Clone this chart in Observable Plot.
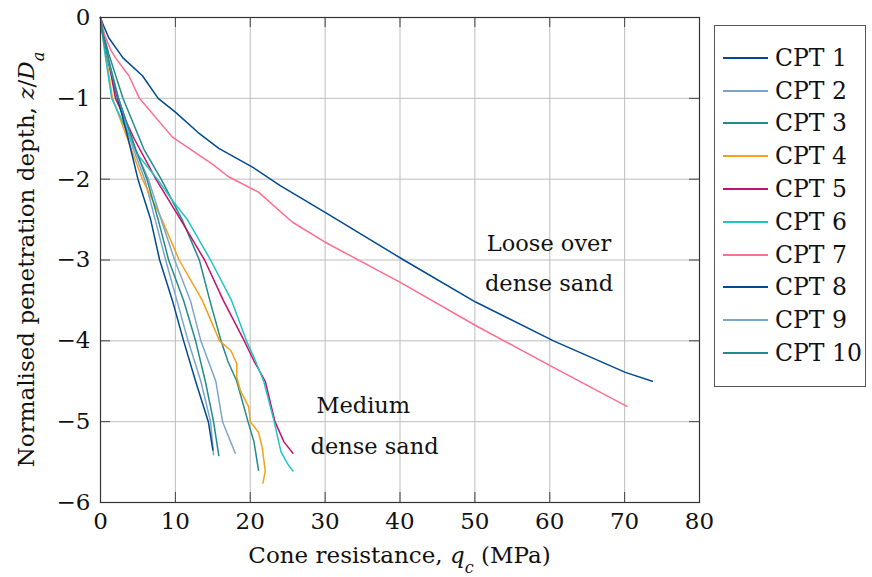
<!DOCTYPE html>
<html>
<head>
<meta charset="utf-8">
<script src="https://cdn.jsdelivr.net/npm/d3@7"></script>
<script src="https://cdn.jsdelivr.net/npm/@observablehq/plot@0.6"></script>
<style>
  body { margin: 0; background: #fff; }
  #wrap { position: relative; width: 872px; height: 577px; font-family: 'DejaVu Serif', serif; }
  #wrap svg text { font-family: 'DejaVu Serif', serif; }
  #legend { position: absolute; left: 714px; top: 25px; width: 152px; height: 362px; border: 1px solid #555; box-sizing: border-box; background: #fff; }
  .item { position: absolute; left: 0; height: 32px; width: 150px; }
  .item .sw { position: absolute; left: 8px; top: 15px; width: 45px; height: 2px; }
  .item .lb { position: absolute; left: 60px; top: 0; line-height: 32px; font-size: 23.5px; color: #111; white-space: nowrap; }
</style>
</head>
<body>
<div id="wrap"></div>
<script>
// ---- data (q_c in MPa, z/D_a) ----
const names = ["CPT 1","CPT 2","CPT 3","CPT 4","CPT 5","CPT 6","CPT 7","CPT 8","CPT 9","CPT 10"];
const colors = ["#004a90","#7ba6cc","#238b8b","#f5a01a","#c5106f","#20c4c4","#ff6e8e","#004a90","#7ba6cc","#238b8b"];

const cpt1 = [[0,0],[0.4,-0.1],[1.1,-0.25],[3.0,-0.5],[5.6,-0.72],[7.7,-1.0],[10,-1.17],[13,-1.42],[15.8,-1.62],[20.3,-1.85],[24,-2.08],[30,-2.41],[40.5,-3.0],[50.1,-3.52],[60.5,-4.0],[70.1,-4.39],[73.7,-4.5]];
const cpt2 = [[0,0],[0.3,-0.2],[0.8,-0.45],[2.2,-1.0],[4.4,-1.63],[5.9,-2.0],[7.3,-2.5],[8.7,-3.0],[10.2,-3.5],[11.7,-4.0],[13.4,-4.5],[14.7,-5.0],[15.1,-5.41]];
const cpt3 = [[0,0],[0.4,-0.2],[1.1,-0.45],[3.0,-1.0],[5.8,-1.63],[8.1,-2.0],[10.9,-2.5],[13.2,-3.0],[14.6,-3.5],[16.1,-4.0],[17.0,-4.25],[18.2,-4.5],[19.7,-5.0],[20.5,-5.25],[21.1,-5.6]];
const cpt4 = [[0,0],[0.25,-0.2],[0.7,-0.45],[1.6,-1.0],[3.6,-1.5],[5.6,-2.0],[8.2,-2.5],[10.5,-3.0],[13.6,-3.5],[15.9,-4.0],[17.4,-4.12],[18.2,-4.28],[18.2,-4.45],[18.7,-4.62],[19.8,-4.82],[20.0,-5.0],[21.1,-5.13],[21.6,-5.32],[22.0,-5.61],[21.7,-5.76]];
const cpt5 = [[0,0],[0.3,-0.2],[0.9,-0.45],[2.0,-1.0],[4.5,-1.5],[7.4,-2.0],[10.7,-2.5],[13.9,-3.0],[16.4,-3.5],[19.2,-4.0],[20.5,-4.25],[22.0,-4.5],[23.3,-5.0],[24.5,-5.25],[25.7,-5.39]];
const cpt6 = [[0,0],[0.25,-0.2],[0.6,-0.45],[1.5,-1.0],[3.5,-1.4],[5.0,-1.7],[7.6,-2.0],[9.5,-2.25],[11.6,-2.5],[14.7,-3.0],[17.5,-3.5],[19.5,-4.0],[20.7,-4.25],[21.8,-4.5],[23.2,-5.0],[23.8,-5.25],[24.1,-5.37],[24.8,-5.49],[25.2,-5.55],[25.7,-5.61]];
const cpt7 = [[0,0],[0.5,-0.2],[1.3,-0.39],[2.0,-0.5],[3.8,-0.72],[5.2,-1.0],[9.6,-1.48],[14.9,-1.81],[17.1,-1.97],[21.1,-2.16],[25.6,-2.53],[30,-2.78],[40.1,-3.28],[50.1,-3.81],[60.1,-4.31],[70.3,-4.81]];
const cpt8 = [[0,0],[0.3,-0.2],[0.8,-0.45],[2.3,-1.0],[3.7,-1.5],[5.0,-2.0],[6.7,-2.5],[7.9,-3.0],[9.6,-3.5],[11.1,-4.0],[12.7,-4.5],[14.4,-5.0],[15.0,-5.35]];
const cpt9 = [[0,0],[0.3,-0.2],[0.8,-0.45],[2.4,-1.0],[4.6,-1.63],[6.4,-2.0],[8.1,-2.5],[9.9,-3.0],[12.0,-3.5],[13.4,-4.0],[15.4,-4.5],[16.3,-5.0],[18.0,-5.39]];
const cpt10 = [[0,0],[0.3,-0.2],[0.9,-0.45],[2.4,-1.0],[4.7,-1.63],[6.2,-2.0],[7.7,-2.5],[9.1,-3.0],[11.1,-3.5],[12.7,-4.0],[14.0,-4.5],[15.1,-5.0],[15.8,-5.42]];

const xTicks = [0,10,20,30,40,50,60,70,80];
const yTicks = [-6,-5,-4,-3,-2,-1,0];

const annoLabels = ["Loose over","dense sand","Medium","dense sand"];
const annoQ = [59.9, 59.9, 35.1, 36.6];
const annoZ = [-2.80, -3.30, -4.80, -5.31];

// ---- build tables ----
const series = [cpt1,cpt2,cpt3,cpt4,cpt5,cpt6,cpt7,cpt8,cpt9,cpt10];
const rows = [];
series.forEach((s, i) => s.forEach(([q, z]) => rows.push({series: names[i], q, z})));
const annotations = annoLabels.map((t, i) => ({label: t, q: annoQ[i], z: annoZ[i]}));

const W = 872, H = 577, mL = 100, mR = 173, mT = 17, mB = 75;
const fw = W - mL - mR, fh = H - mT - mB;
const tickLen = 10;
const FONT = "'DejaVu Serif', serif";
const FS = 23;
const fmt = d3.format("d");

const chart = Plot.plot({
  width: W, height: H,
  marginLeft: mL, marginRight: mR, marginTop: mT, marginBottom: mB,
  style: {fontFamily: FONT, fontSize: FS + "px", color: "#111", background: "#fff"},
  x: {domain: [0, 80], ticks: xTicks, tickFormat: fmt, label: null},
  y: {domain: [-6, 0], ticks: yTicks, tickFormat: fmt, label: null},
  color: {domain: names, range: colors},
  marks: [
    Plot.gridX(xTicks, {stroke: "#bdbdbd", strokeOpacity: 1}),
    Plot.gridY(yTicks, {stroke: "#bdbdbd", strokeOpacity: 1}),
    Plot.tickX(xTicks, {x: d => d, stroke: "#444", insetTop: fh - tickLen}),
    Plot.tickX(xTicks, {x: d => d, stroke: "#444", insetBottom: fh - tickLen}),
    Plot.tickY(yTicks, {y: d => d, stroke: "#444", insetRight: fw - tickLen}),
    Plot.tickY(yTicks, {y: d => d, stroke: "#444", insetLeft: fw - tickLen}),
    Plot.line(rows, {x: "q", y: "z", z: "series", stroke: "series", strokeWidth: 1.5}),
    Plot.text(annotations, {x: "q", y: "z", text: "label", fontSize: 22.5, fill: "#111"}),
    Plot.frame({stroke: "#333", strokeWidth: 1.2}),
    Plot.axisX(xTicks, {tickSize: 0, tickPadding: 10, tickFormat: fmt, label: null, fill: "#111"}),
    Plot.axisY(yTicks, {tickSize: 0, tickPadding: 10, tickFormat: fmt, label: null, fill: "#111"})
  ]
});

const wrap = document.getElementById("wrap");
wrap.appendChild(chart);

// axis titles with italic math parts
const svg = d3.select(chart);
const xl = svg.append("text")
  .attr("x", mL + fw / 2).attr("y", 563)
  .attr("text-anchor", "middle").attr("font-size", FS).attr("fill", "#111");
xl.append("tspan").text("Cone resistance, ");
xl.append("tspan").attr("font-style", "italic").text("q");
xl.append("tspan").attr("font-style", "italic").attr("font-size", 16).attr("baseline-shift", "sub").text("c");
xl.append("tspan").text(" (MPa)");

const yl = svg.append("text")
  .attr("transform", `translate(34,${mT + fh / 2}) rotate(-90)`)
  .attr("text-anchor", "middle").attr("font-size", FS).attr("fill", "#111");
yl.append("tspan").text("Normalised penetration depth, ");
yl.append("tspan").attr("font-style", "italic").text("z");
yl.append("tspan").text("/");
yl.append("tspan").attr("font-style", "italic").text("D");
yl.append("tspan").attr("font-style", "italic").attr("font-size", 16).attr("baseline-shift", "sub").text("a");

// legend
const legend = document.createElement("div");
legend.id = "legend";
names.forEach((n, i) => {
  const it = document.createElement("div");
  it.className = "item";
  it.style.top = (31.7 + 32.8 * i - 16) + "px";
  const sw = document.createElement("div");
  sw.className = "sw";
  sw.style.background = colors[i];
  const lb = document.createElement("div");
  lb.className = "lb";
  lb.textContent = n;
  it.appendChild(sw); it.appendChild(lb);
  legend.appendChild(it);
});
wrap.appendChild(legend);
</script>
</body>
</html>
